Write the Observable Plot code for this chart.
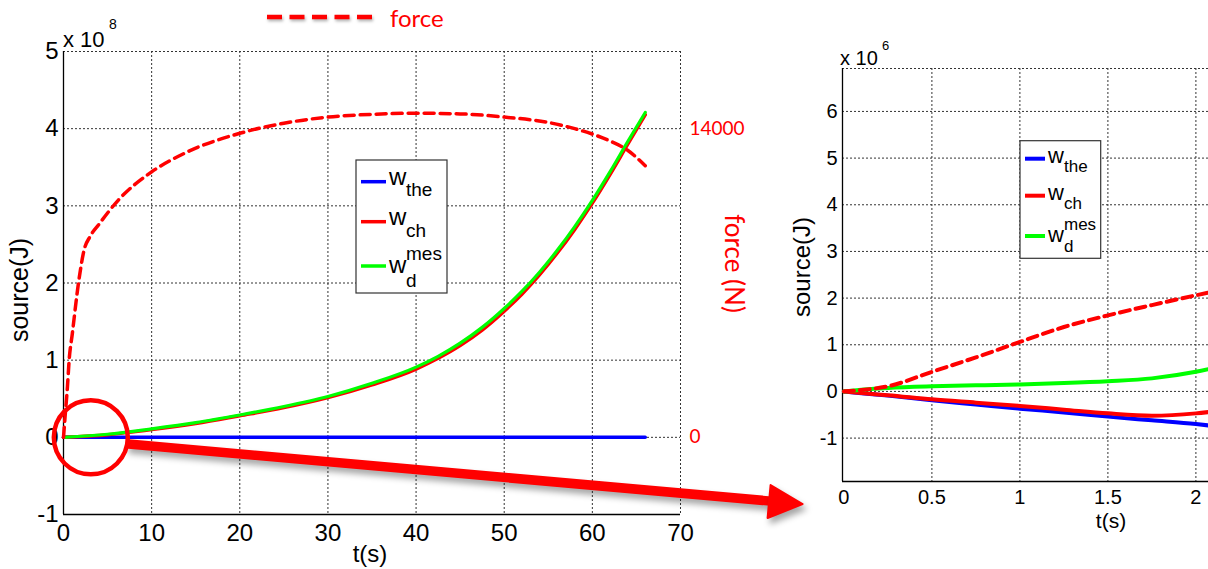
<!DOCTYPE html>
<html><head><meta charset="utf-8">
<script src="https://cdn.jsdelivr.net/npm/d3@7"></script>
<script src="https://cdn.jsdelivr.net/npm/@observablehq/plot@0.6"></script>
<style>
html,body{margin:0;padding:0;background:#fff;overflow:hidden;}
#wrap{position:relative;width:1208px;height:569px;overflow:hidden;background:#fff;}
#wrap svg{position:absolute;top:0;max-width:none;background:transparent;}
</style></head><body><div id="wrap"></div>
<script>
// ---------- data: main plot (energies in 1e8 J, force in N) ----------
const tMain   = [0, 5, 10, 15, 20, 25, 30, 35, 40, 42.5, 45, 47.5, 50, 52, 54, 56, 58, 60, 62, 64, 66];
const wdMain  = [0, 0.04, 0.11, 0.19, 0.29, 0.40, 0.53, 0.70, 0.91, 1.05, 1.22, 1.425, 1.67, 1.89, 2.14, 2.42, 2.73, 3.07, 3.44, 3.83, 4.21];
const wchMain = [0, 0.035, 0.10, 0.18, 0.28, 0.385, 0.515, 0.68, 0.885, 1.025, 1.19, 1.39, 1.635, 1.855, 2.105, 2.385, 2.695, 3.035, 3.405, 3.795, 4.18];
const tTheMain = [0, 66];
const wtheMain = [0, 0];
const tForce = [0, 0.18, 0.45, 0.64, 1.0, 1.7, 2.34, 3, 4, 6.2, 10, 13.7, 20, 25, 30, 35, 40, 45, 50, 55, 58, 60, 62, 64, 66];
const forceN = [0, 945, 2310, 3500, 4700, 7000, 8500, 9100, 9650, 10750, 12040, 12880, 13790, 14245, 14525, 14650, 14700, 14670, 14525, 14280, 14000, 13755, 13440, 13020, 12320];
const xTicksMain = [0, 10, 20, 30, 40, 50, 60, 70];
const yTicksMain = [-1, 0, 1, 2, 3, 4, 5];
const forceTicks = [0, 14000];

// ---------- data: zoomed plot (1e6 J) ----------
const tZoom     = [0, 0.1, 0.25, 0.5, 0.75, 1, 1.25, 1.5, 1.75, 2, 2.1];
const forceZoom = [0, 0.03, 0.11, 0.42, 0.73, 1.06, 1.38, 1.63, 1.85, 2.06, 2.14];
const wdZoom    = [0, 0.035, 0.075, 0.11, 0.13, 0.15, 0.18, 0.22, 0.28, 0.42, 0.50];
const wchZoom   = [0, -0.035, -0.08, -0.17, -0.24, -0.31, -0.39, -0.47, -0.52, -0.47, -0.43];
const wtheZoom  = [0, -0.037, -0.09, -0.19, -0.28, -0.37, -0.45, -0.54, -0.62, -0.70, -0.74];
const xTicksZoom = [0, 0.5, 1, 1.5, 2];
const yTicksZoom = [-1, 0, 1, 2, 3, 4, 5, 6];

// ---------- legend ----------
const legendBase = ["w", "w", "w"];
const legendSub  = ["the", "ch", "d"];
const legendSup  = ["", "", "mes"];
const legendColors = ["#0000ff", "#ff0000", "#00ff00"];

// ---------- annotation (main-plot data units) ----------
const circleCenter = [{t: 3.1, v: 0}];
const arrowShaft = [{t: 7.07, v: -0.084}, {t: 80.6, v: -0.83}];
const arrowHead  = [{t: 80.22, v: -0.618}, {t: 83.85, v: -0.864}, {t: 79.88, v: -1.045}];

const BLUE = "#0000ff", RED = "#ff0000", GREEN = "#00ff00";
const ARIAL = "Liberation Sans, Arial, sans-serif";
const CAL = "Lato, 'Open Sans', sans-serif";
const toJ = f => f * 4 / 14000; // right axis: 14000 N <-> 4 (x1e8 J)
const tbl = (ts, vs) => ts.map((t, i) => ({t, v: vs[i]}));
const gridStyle = {stroke: "#333", strokeDasharray: "2,2", strokeWidth: 1};

const wrap = document.getElementById("wrap");

// ===== main plot =====
const left = Plot.plot({
  width: 840, height: 569,
  marginLeft: 63, marginRight: 160, marginTop: 51, marginBottom: 55,
  x: {domain: [0, 70], ticks: xTicksMain, tickSize: 0, tickPadding: 9, tickFormat: d => String(d), label: null},
  y: {domain: [-1, 5], ticks: yTicksMain, tickSize: 0, tickPadding: 5, tickFormat: d => String(d), label: null},
  style: {fontSize: "24px", fontFamily: ARIAL, color: "#000", background: "transparent"},
  marks: [
    Plot.ruleX(xTicksMain.filter(d => d > 0), gridStyle),
    Plot.ruleY(yTicksMain.filter(d => d > -1), gridStyle),
    Plot.ruleX([0], {stroke: "#000", strokeWidth: 1.3}),
    Plot.ruleY([-1], {stroke: "#000", strokeWidth: 1.3}),
    Plot.line(tbl(tTheMain, wtheMain), {x: "t", y: "v", stroke: BLUE, strokeWidth: 3.5}),
    Plot.line(tbl(tMain, wchMain), {x: "t", y: "v", stroke: RED, strokeWidth: 3.5, curve: "monotone-x"}),
    Plot.line(tbl(tMain, wdMain), {x: "t", y: "v", stroke: GREEN, strokeWidth: 3.2, curve: "monotone-x"}),
    Plot.line(tbl(tForce, forceN), {x: "t", y: d => toJ(d.v), stroke: RED, strokeWidth: 3.5, strokeDasharray: "10,6", curve: "monotone-x"}),
    Plot.text(forceTicks, {x: 70, y: d => toJ(d), text: d => String(d), dx: 9, textAnchor: "start", fill: RED, fontFamily: CAL, fontSize: 19}),
    Plot.text(["force (N)"], {frameAnchor: "right", textAnchor: "middle", dx: 53, dy: -19.5, rotate: 90, fill: RED, fontFamily: CAL, fontSize: 26}),
    Plot.line(arrowShaft, {x: "t", y: "v", stroke: RED, strokeWidth: 9.5, strokeLinecap: "butt", ariaDescription: "arrow"}),
    Plot.line(arrowHead, {x: "t", y: "v", fill: RED, stroke: RED, strokeWidth: 2, strokeLinejoin: "round", curve: "linear-closed", ariaDescription: "arrow"}),
    Plot.dot(circleCenter, {x: "t", y: "v", r: 37, stroke: RED, strokeWidth: 4.5, fill: "none"})
  ]
});
left.style.left = "0px";
left.querySelectorAll('[aria-description="arrow"]').forEach(g => g.style.filter = "drop-shadow(3px 5px 3px rgba(0,0,0,0.35))");
wrap.appendChild(left);

// ===== zoomed plot =====
const right = Plot.plot({
  width: 433, height: 569,
  marginLeft: 62, marginRight: 0, marginTop: 68, marginBottom: 88,
  x: {domain: [-0.008, 2.1], ticks: xTicksZoom, tickSize: 0, tickPadding: 8, tickFormat: d => String(d), label: null},
  y: {domain: [-1.93, 6.92], ticks: yTicksZoom, tickSize: 0, tickPadding: 5, tickFormat: d => String(d), label: null},
  style: {fontSize: "20px", fontFamily: ARIAL, color: "#000", background: "transparent"},
  marks: [
    Plot.ruleX(xTicksZoom.filter(d => d > 0), gridStyle),
    Plot.ruleY(yTicksZoom.concat([6.92]), gridStyle),
    Plot.ruleX([-0.008], {stroke: "#000", strokeWidth: 1.3}),
    Plot.ruleY([-1.93], {stroke: "#000", strokeWidth: 1.3}),
    Plot.line(tbl(tZoom, wtheZoom), {x: "t", y: "v", stroke: BLUE, strokeWidth: 4, curve: "monotone-x"}),
    Plot.line(tbl(tZoom, wchZoom), {x: "t", y: "v", stroke: RED, strokeWidth: 4, curve: "monotone-x"}),
    Plot.line(tbl(tZoom, wdZoom), {x: "t", y: "v", stroke: GREEN, strokeWidth: 4, curve: "monotone-x"}),
    Plot.line(tbl(tZoom, forceZoom), {x: "t", y: "v", stroke: RED, strokeWidth: 4, strokeDasharray: "10,6", curve: "monotone-x"})
  ]
});
right.style.left = "780px";
wrap.appendChild(right);

// ===== overlay: titles, exponents, legends =====
const ov = d3.select(wrap).append("svg").attr("width", 1208).attr("height", 569).style("left", "0px");

function txt(x, y, s, size, opts = {}) {
  return ov.append("text").attr("x", x).attr("y", y).text(s)
    .attr("font-family", opts.font || ARIAL).attr("font-size", size)
    .attr("fill", opts.fill || "#000").attr("text-anchor", opts.anchor || "start")
    .attr("transform", opts.rotate ? `rotate(${opts.rotate},${x},${y})` : null);
}
// axis titles
txt(370, 562, "t(s)", 24, {anchor: "middle"});
txt(28, 290, "source(J)", 25, {anchor: "middle", rotate: -90});
txt(1111, 528, "t(s)", 21, {anchor: "middle"});
txt(810, 267, "source(J)", 24, {anchor: "middle", rotate: -90});
// exponents
txt(63, 47, "x 10", 22); txt(109, 29, "8", 14);
txt(840, 65, "x 10", 20); txt(882, 50, "6", 13);
// top force legend
ov.append("line").attr("x1", 267).attr("x2", 373).attr("y1", 17).attr("y2", 17)
  .attr("stroke", RED).attr("stroke-width", 4.5).attr("stroke-dasharray", "15,7.5")
  .style("filter", "drop-shadow(1px 2px 1.5px rgba(0,0,0,0.3))");
txt(390, 27, "force", 24, {font: CAL, fill: RED});

// series legends
const legendLayouts = [
  {box: [356, 160, 91, 133], lx: [361, 386], tx: 389, sx: 406, big: 24, small: 19, lw: 3.5,
   rows: [{ly: 181.7, wy: 185, sy: 196}, {ly: 221.7, wy: 225, sy: 237}, {ly: 266, wy: 273, sy: 286.5, py: 260}]},
  {box: [1020, 140.7, 80.7, 117.6], lx: [1025, 1045], tx: 1048, sx: 1064, big: 22, small: 17, lw: 4,
   rows: [{ly: 158.7, wy: 163.3, sy: 172}, {ly: 195.7, wy: 200, sy: 209}, {ly: 236, wy: 241.5, sy: 252, py: 230}]}
];
legendLayouts.forEach(L => {
  ov.append("rect").attr("x", L.box[0]).attr("y", L.box[1]).attr("width", L.box[2]).attr("height", L.box[3])
    .attr("fill", "#fff").attr("stroke", "#333").attr("stroke-width", 1.2);
  legendBase.forEach((b, i) => {
    const r = L.rows[i];
    ov.append("line").attr("x1", L.lx[0]).attr("x2", L.lx[1]).attr("y1", r.ly).attr("y2", r.ly)
      .attr("stroke", legendColors[i]).attr("stroke-width", L.lw);
    txt(L.tx, r.wy, b, L.big);
    txt(L.sx, r.sy, legendSub[i], L.small);
    if (legendSup[i]) txt(L.sx, r.py, legendSup[i], L.small);
  });
});
</script></body></html>
